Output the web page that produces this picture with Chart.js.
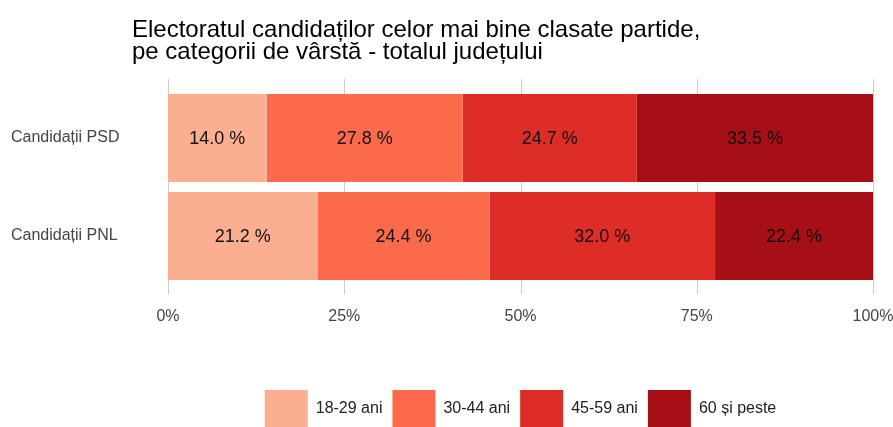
<!DOCTYPE html>
<html>
<head>
<meta charset="utf-8">
<script src="https://cdn.jsdelivr.net/npm/chart.js@4"></script>
<style>
  html, body { margin: 0; padding: 0; background: #fff; }
  #wrap { width: 893px; height: 427px; position: relative; }
</style>
</head>
<body>
<div id="wrap"><canvas id="c" width="893" height="427"></canvas></div>
<script>
const titleLines = ['Electoratul candidaților celor mai bine clasate partide,', 'pe categorii de vârstă - totalul județului'];
const categories = ['Candidații PSD', 'Candidații PNL'];
const seriesNames = ['18-29 ani', '30-44 ani', '45-59 ani', '60 și peste'];
const age18to29 = [14.0, 21.2];
const age30to44 = [27.8, 24.4];
const age45to59 = [24.7, 32.0];
const age60plus = [33.5, 22.4];
const xTickValues = [0, 25, 50, 75, 100];
const seriesColors = ['#fcae91', '#fb6a4a', '#de2d26', '#a50f15'];

const seriesValues = [age18to29, age30to44, age45to59, age60plus];

Chart.defaults.font.family = 'Arial, "Liberation Sans", sans-serif';

const titlePlugin = {
  id: 'titleLines',
  afterDraw(chart) {
    const ctx = chart.ctx;
    ctx.save();
    ctx.font = '24px Arial, "Liberation Sans", sans-serif';
    ctx.fillStyle = '#000';
    ctx.textAlign = 'left';
    ctx.textBaseline = 'alphabetic';
    ctx.fillText(titleLines[0], 132, 37);
    ctx.fillText(titleLines[1], 132, 59);
    ctx.restore();
  }
};

const gridPlugin = {
  id: 'extGrid',
  beforeDatasetsDraw(chart) {
    const ctx = chart.ctx;
    const xs = chart.scales.x;
    const ca = chart.chartArea;
    ctx.save();
    ctx.strokeStyle = '#cccccc';
    ctx.lineWidth = 1;
    xTickValues.forEach(v => {
      const px = Math.round(xs.getPixelForValue(v)) + 0.5;
      ctx.beginPath();
      ctx.moveTo(px, ca.top - 10);
      ctx.lineTo(px, ca.bottom + 9);
      ctx.stroke();
    });
    ctx.restore();
  }
};

const valueLabelPlugin = {
  id: 'valueLabels',
  afterDatasetsDraw(chart) {
    const ctx = chart.ctx;
    ctx.save();
    ctx.font = '18px Arial, "Liberation Sans", sans-serif';
    ctx.fillStyle = '#111';
    ctx.textAlign = 'center';
    ctx.textBaseline = 'middle';
    chart.data.datasets.forEach((ds, di) => {
      const meta = chart.getDatasetMeta(di);
      meta.data.forEach((el, i) => {
        const cx = (el.x + el.base) / 2;
        ctx.fillText(ds.data[i].toFixed(1) + ' %', cx, el.y + 1);
      });
    });
    ctx.restore();
  }
};

new Chart(document.getElementById('c'), {
  type: 'bar',
  data: {
    labels: categories,
    datasets: seriesNames.map((name, i) => ({
      label: name,
      data: seriesValues[i],
      backgroundColor: seriesColors[i],
      borderWidth: 0,
      categoryPercentage: 1,
      barPercentage: 0.898
    }))
  },
  options: {
    indexAxis: 'y',
    responsive: false,
    animation: false,
    devicePixelRatio: 1,
    layout: { padding: { top: 89, left: 11, right: 20, bottom: -10 } },
    scales: {
      x: {
        stacked: true,
        min: 0,
        max: 100,
        afterBuildTicks(scale) { scale.ticks = xTickValues.map(v => ({ value: v })); },
        afterFit(scale) { scale.height = 95; scale.paddingLeft = 0; scale.paddingRight = 0; },
        grid: { display: false, drawTicks: false },
        border: { display: false },
        ticks: {
          padding: 22,
          color: '#444',
          font: { size: 16 },
          callback: v => v + '%'
        }
      },
      y: {
        stacked: true,
        afterFit(scale) { scale.width = 157; },
        grid: { display: false, drawTicks: false },
        border: { display: false },
        ticks: {
          crossAlign: 'far',
          padding: 0,
          color: '#444',
          font: { size: 16 }
        }
      }
    },
    plugins: {
      legend: {
        position: 'bottom',
        fullSize: false,
        labels: {
          boxWidth: 43,
          boxHeight: 37,
          padding: 10,
          color: '#222',
          font: { size: 16 }
        }
      },
      tooltip: { enabled: false },
      title: { display: false }
    }
  },
  plugins: [gridPlugin, valueLabelPlugin, titlePlugin]
});
</script>
</body>
</html>
